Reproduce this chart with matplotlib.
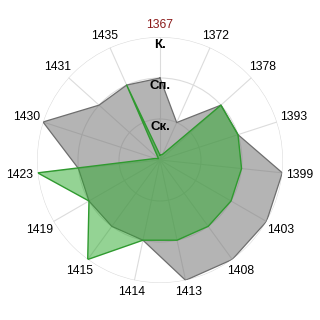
import numpy as np
import matplotlib
matplotlib.use('Agg')
import matplotlib.pyplot as plt

categories = ['1367', '1372', '1378', '1393', '1399', '1403', '1408', '1413',
              '1414', '1415', '1419', '1423', '1430', '1431', '1435']
series_gray = [2, 1, 2, 2, 3, 3, 3, 3, 2, 2, 2, 2, 3, 2, 2]
series_green = [0.12, 0.15, 2, 2, 2, 2, 2, 2, 2, 3, 2, 3, 0.12, 0.05, 2]
ring_values = [1, 2, 3]
ring_labels = ['Ск.', 'Сп.', 'К.']
highlight_category = '1367'

plt.rcParams['font.family'] = ['Liberation Sans', 'DejaVu Sans']

n = len(categories)
theta = np.linspace(0, 2 * np.pi, n, endpoint=False)

W = 320
R_px = 123
fig = plt.figure(figsize=(3.2, 3.2), dpi=100)
ax = fig.add_axes([(160 - R_px) / W, (160 - R_px) / W, 2 * R_px / W, 2 * R_px / W],
                  projection='polar')
ax.set_theta_zero_location('N')
ax.set_theta_direction(-1)
rmax = max(ring_values)
ax.set_ylim(0, rmax)
ax.set_xticks(theta)
ax.set_xticklabels([])
ax.set_yticks(ring_values)
ax.set_yticklabels([])
ax.grid(True, color='#dcdcdc', lw=0.8)
ax.spines['polar'].set_visible(False)
ax.set_axisbelow(True)

t_closed = np.append(theta, theta[0])
g = np.append(series_gray, series_gray[0])
gr = np.append(series_green, series_green[0])

ax.fill(t_closed, g, facecolor='#777777', alpha=0.55, edgecolor='none', zorder=2)
ax.plot(t_closed, g, color='#6e6e6e', lw=0.9, zorder=3)
ax.fill(t_closed, gr, facecolor='#2aa82a', alpha=0.5, edgecolor='none', zorder=4)
ax.plot(t_closed, gr, color='#2f9a2f', lw=1.0, zorder=5)

px_per_unit = R_px / rmax
for th, lab in zip(theta, categories):
    d = (12 + 6 * np.sin(th) ** 2) / px_per_unit
    col = '#8b1a1a' if lab == highlight_category else '#000000'
    ax.text(th, rmax + d, lab, ha='center', va='center', fontsize=8.7,
            color=col, clip_on=False, zorder=6)

for v, lab in zip(ring_values, ring_labels):
    ax.text(0, v - 8 / px_per_unit, lab, ha='center', va='center', fontsize=9.5,
            fontweight='bold', color='#000000', zorder=6)

fig.savefig('out.png', dpi=100)
